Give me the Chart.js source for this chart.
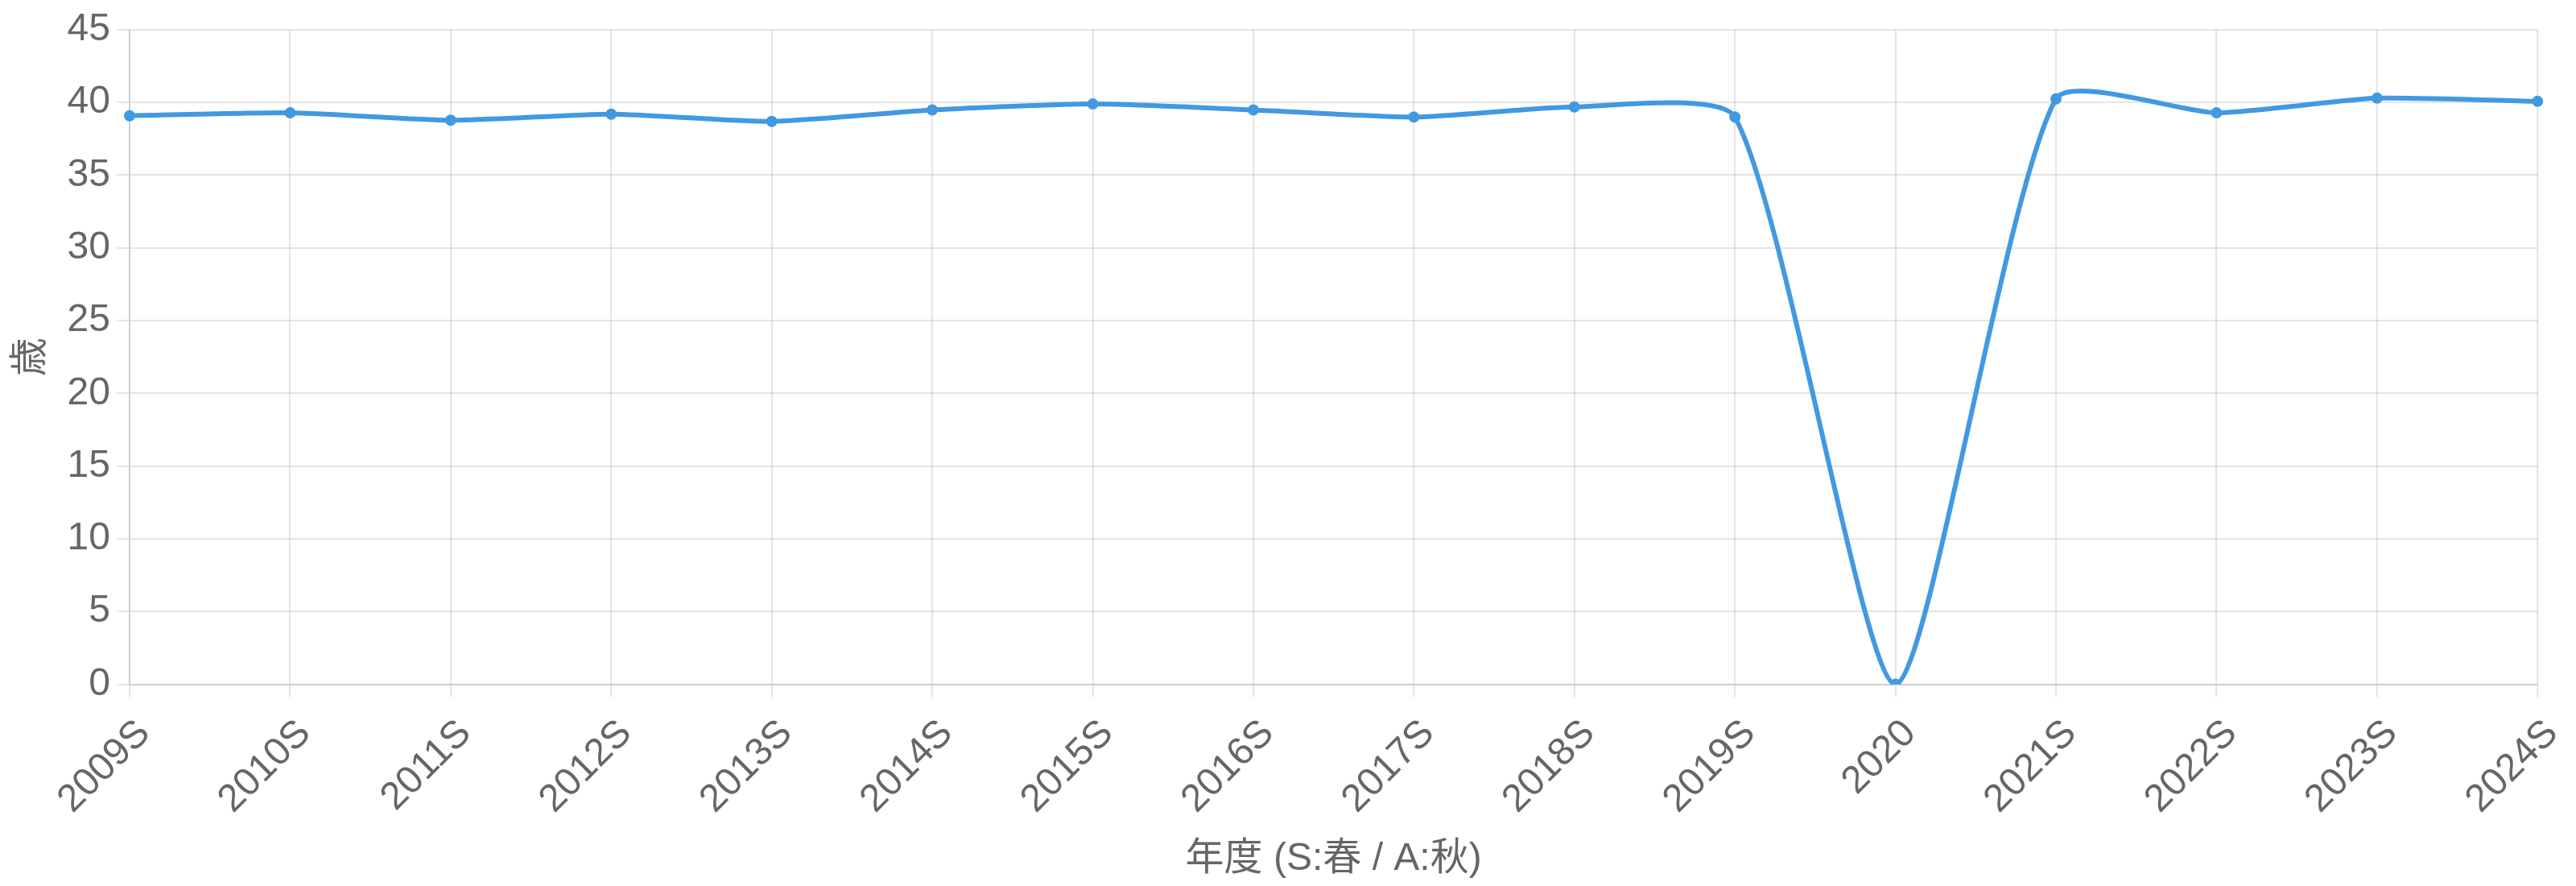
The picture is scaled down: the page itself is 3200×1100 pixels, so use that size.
<!DOCTYPE html>
<html>
<head>
<meta charset="utf-8">
<script src="https://cdn.jsdelivr.net/npm/chart.js@4"></script>
<style>
  html, body { margin: 0; padding: 0; background: #fff; }
  canvas { display: block; }
</style>
</head>
<body>
<canvas id="c" width="3200" height="1100" style="width:3200px;height:1100px"></canvas>
<script>
const categories = ["2009S","2010S","2011S","2012S","2013S","2014S","2015S","2016S","2017S","2018S","2019S","2020","2021S","2022S","2023S","2024S"];
const ages = [39.08, 39.28, 38.77, 39.19, 38.69, 39.48, 39.89, 39.48, 38.99, 39.69, 38.99, 0, 40.24, 39.28, 40.29, 40.07];
const yTicks = [0, 5, 10, 15, 20, 25, 30, 35, 40, 45];
const xTitle = "年度 (S:春 / A:秋)";
const yTitle = "歳";

const FONT = "'Helvetica Neue', Helvetica, Arial, 'Liberation Sans', 'Noto Sans CJK JP', sans-serif";
const BLUE = "#4299e1";

new Chart(document.getElementById('c'), {
  type: 'line',
  data: {
    labels: categories,
    datasets: [{
      label: yTitle,
      data: ages,
      borderColor: BLUE,
      backgroundColor: BLUE,
      borderWidth: 6,
      pointRadius: 6,
      pointBorderWidth: 2,
      pointBackgroundColor: BLUE,
      pointBorderColor: BLUE,
      tension: 0.2,
      fill: false
    }]
  },
  options: {
    responsive: false,
    devicePixelRatio: 1,
    animation: false,
    layout: { padding: { top: 12, right: 0, left: 2, bottom: 0 } },
    plugins: {
      legend: { display: false },
      tooltip: { enabled: false }
    },
    scales: {
      x: {
        afterFit: (axis) => { axis.paddingRight = Math.max(axis.paddingRight - 10, 0); },
        grid: { color: 'rgba(0,0,0,0.1)', lineWidth: 2, tickLength: 16 },
        border: { color: 'rgba(0,0,0,0.1)', width: 2 },
        ticks: {
          color: '#666',
          font: { family: FONT, size: 48 },
          maxRotation: 45,
          minRotation: 45,
          autoSkip: false,
          padding: 17,
          labelOffset: 18
        },
        title: {
          display: true,
          text: xTitle,
          color: '#666',
          font: { family: FONT, size: 48 },
          padding: { top: 0, bottom: 4 }
        }
      },
      y: {
        min: 0,
        max: 45,
        afterBuildTicks: (axis) => { axis.ticks = yTicks.map(v => ({ value: v })); },
        grid: { color: 'rgba(0,0,0,0.1)', lineWidth: 2, tickLength: 16 },
        border: { color: 'rgba(0,0,0,0.1)', width: 2 },
        ticks: {
          color: '#666',
          font: { family: FONT, size: 48 },
          padding: 8
        },
        title: {
          display: true,
          text: yTitle,
          color: '#666',
          font: { family: FONT, size: 48 },
          padding: { top: 8, bottom: 8 }
        }
      }
    }
  }
});
</script>
</body>
</html>
